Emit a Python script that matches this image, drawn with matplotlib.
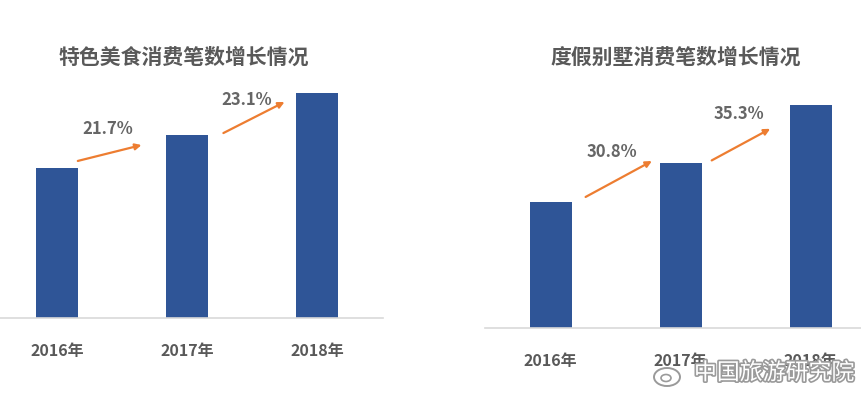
import matplotlib.pyplot as plt
import matplotlib.patheffects as pe
from matplotlib.patches import Ellipse

plt.rcParams['font.family'] = ['Noto Sans CJK SC', 'DejaVu Sans']

years = ['2016年', '2017年', '2018年']

# index values, 2016 = 100
food_vals = [100, 121.7, 149.8]
food_growth = ['21.7%', '23.1%']
villa_vals = [100, 130.8, 177.0]
villa_growth = ['30.8%', '35.3%']

BAR = '#2F5597'
ORANGE = '#ED7D31'
GRAY = '#595959'

W, H = 861, 395
fig = plt.figure(figsize=(W / 100, H / 100), dpi=100)


def panel(left_px, right_px, base_px, px_per_unit, centre0_px, vals, growth, title,
          title_x, arrows, labels):
    ax = fig.add_axes([left_px / W, (H - base_px) / H, (right_px - left_px) / W, 250 / H])
    x = list(range(len(vals)))
    ax.bar(x, vals, width=42 / 130, color=BAR, zorder=2)
    ax.set_xlim((left_px - centre0_px) / 130, (right_px - centre0_px) / 130)
    ax.set_ylim(0, 250 / px_per_unit)
    for s in ['top', 'right', 'left']:
        ax.spines[s].set_visible(False)
    ax.spines['bottom'].set_color('#D9D9D9')
    ax.spines['bottom'].set_linewidth(1.2)
    ax.set_yticks([])
    ax.set_xticks(x)
    ax.set_xticklabels(years, fontsize=11.5, fontweight='bold', color=GRAY)
    ax.tick_params(axis='x', length=0, pad=18)

    for i, g in enumerate(growth):
        (x0, y0), (x1, y1) = arrows[i]
        ax.annotate('', xy=(i + x1, vals[i] + y1), xytext=(i + x0, vals[i] + y0),
                    arrowprops=dict(arrowstyle='-|>', color=ORANGE, lw=1.6,
                                    mutation_scale=9, shrinkA=0, shrinkB=0))
        lx, ly = labels[i]
        ax.text(i + lx, vals[i] + ly, g, ha='center', va='center',
                fontsize=12, fontweight='bold', color='#666666')

    fig.text(title_x / W, 1 - 57 / H, title, ha='center', va='center',
             fontsize=15, fontweight='bold', color=GRAY)


panel(0, 383, 318, 1.5, 57, food_vals, food_growth, '特色美食消费笔数增长情况', 184,
      arrows=[((0.16, 4.7), (0.65, 15.3)), ((0.28, 1.6), (0.75, 22.3))],
      labels=[(0.39, 26.3), (0.46, 23.6)])

panel(485, 861, 328, 1.26, 550.5, villa_vals, villa_growth, '度假别墅消费笔数增长情况', 676,
      arrows=[((0.27, 4.0), (0.78, 32.5)), ((0.24, 2.2), (0.69, 27.3))],
      labels=[(0.47, 39.7), (0.45, 39.0)])

# watermark
halo = [pe.withStroke(linewidth=2.4, foreground='#9A9A9A')]
fig.text(774 / W, 1 - 373 / H, '中国旅游研究院', ha='center', va='center',
         fontsize=16.5, color='white', path_effects=halo)
fig.patches.append(Ellipse((667 / W, 1 - 377 / H), 26 / W, 18 / H, transform=fig.transFigure,
                           fill=False, edgecolor='#9A9A9A', lw=1.4))
fig.patches.append(Ellipse((666 / W, 1 - 378 / H), 10 / W, 7 / H, transform=fig.transFigure,
                           fill=False, edgecolor='#9A9A9A', lw=1.2))

fig.savefig('out.png', dpi=100)
